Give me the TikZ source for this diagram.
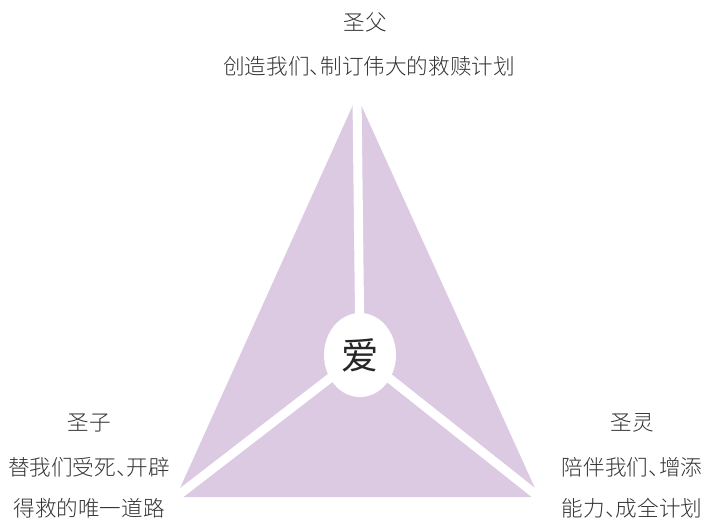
\documentclass[tikz,border=0pt]{standalone}
\usepackage{fontspec}
\setmainfont{Noto Sans CJK SC}[UprightFont=* Light, RawFeature={+halt}]
\newfontfamily\cjkreg{Noto Sans CJK SC}
\usetikzlibrary{shapes.geometric,calc}
\definecolor{tri}{HTML}{DCCAE3}
\definecolor{txt}{HTML}{333333}
\tikzset{
  lbl/.style={text=txt, font=\fontsize{16.2}{18}\selectfont, inner sep=0pt, anchor=center},
  spoke/.style={white, line width=6.8pt, line cap=butt},
  core/.style={ellipse, fill=white, minimum width=54pt, minimum height=63pt, inner sep=0pt, text=black!85, font=\cjkreg\fontsize{28}{32}\selectfont}
}
\begin{document}
\begin{tikzpicture}[x=0.75pt,y=-0.75pt]
\useasboundingbox (0,0) rectangle (706,522);
\coordinate (top) at (357,96);
\coordinate (bl) at (176,497);
\coordinate (br) at (539,497);
\coordinate (c) at (360,355);
\fill[tri] (top) -- (bl) -- (br) -- cycle;
\draw[spoke] (c) -- ($(c)!1.05!(top)$);
\draw[spoke] (c) -- ($(c)!1.05!(bl)$);
\draw[spoke] (c) -- ($(c)!1.05!(br)$);
\node[core] (love) at (c) {爱};
\node[lbl] (f1) at (365,22) {圣父};
\node[lbl] (f2) at (369,66) {创造我们、制订伟大的救赎计划};
\node[lbl] (s1) at (89,423) {圣子};
\node[lbl] (s2) at (89,467) {替我们受死、开辟};
\node[lbl] (s3) at (89,508) {得救的唯一道路};
\node[lbl] (h1) at (632,423) {圣灵};
\node[lbl] (h2) at (632,467) {陪伴我们、增添};
\node[lbl] (h3) at (632,508) {能力、成全计划};
\end{tikzpicture}
\end{document}
